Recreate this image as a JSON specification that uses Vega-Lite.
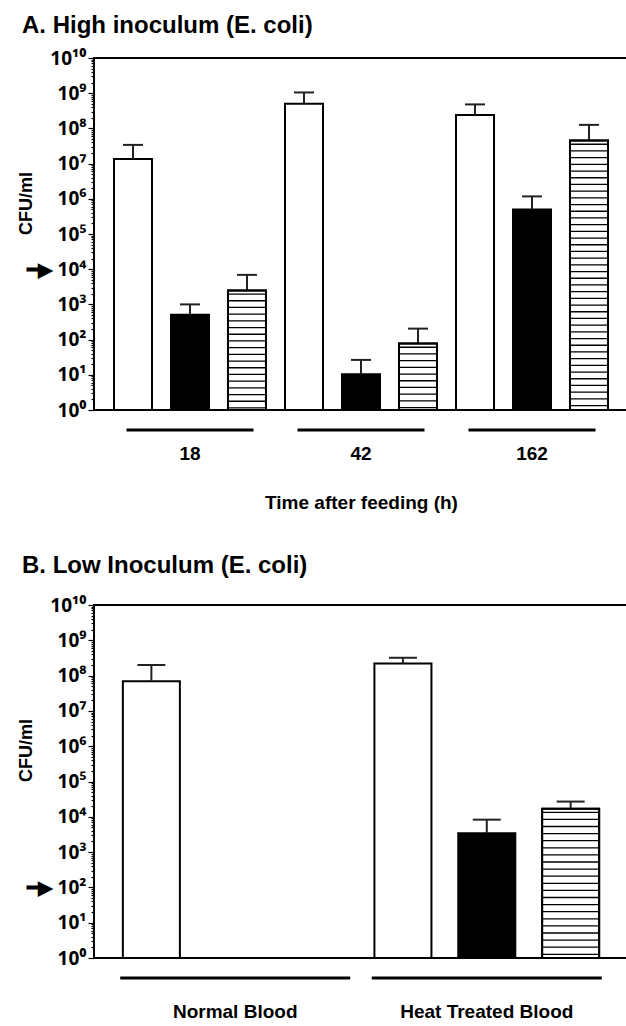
{
  "$schema": "https://vega.github.io/schema/vega-lite/v6.json",
  "padding": {"left": 16, "top": 13, "right": 0, "bottom": 0},
  "spacing": 40,
  "resolve": {"scale": {"x": "independent", "xOffset": "independent", "y": "independent"}},
  "config": {
    "font": "Liberation Sans",
    "view": {"stroke": "black", "strokeWidth": 2},
    "axis": {"labelFont": "Liberation Sans", "titleFont": "Liberation Sans", "labelColor": "black", "titleColor": "black", "grid": false},
    "title": {"font": "Liberation Sans", "fontSize": 24, "fontWeight": "bold", "color": "black", "anchor": "start", "frame": "group"}
  },
  "datasets": {
    "a": [
      {"time": "18", "treatment": "open", "value": 13500000, "upper": 34000000},
      {"time": "18", "treatment": "filled", "value": 510, "upper": 1000},
      {"time": "18", "treatment": "striped", "value": 2500, "upper": 6900},
      {"time": "42", "treatment": "open", "value": 500000000, "upper": 1050000000},
      {"time": "42", "treatment": "filled", "value": 10.4, "upper": 26.5},
      {"time": "42", "treatment": "striped", "value": 77, "upper": 205},
      {"time": "162", "treatment": "open", "value": 240000000, "upper": 480000000},
      {"time": "162", "treatment": "filled", "value": 500000, "upper": 1170000},
      {"time": "162", "treatment": "striped", "value": 45000000, "upper": 126000000}
    ],
    "groupsA": [{"time": "18"}, {"time": "42"}, {"time": "162"}],
    "b": [
      {"blood": "Normal Blood", "treatment": "open", "value": 69000000, "upper": 200000000},
      {"blood": "Heat Treated Blood", "treatment": "open", "value": 220000000, "upper": 320000000},
      {"blood": "Heat Treated Blood", "treatment": "filled", "value": 3400, "upper": 8300},
      {"blood": "Heat Treated Blood", "treatment": "striped", "value": 17000, "upper": 27000}
    ],
    "groupsB": [{"blood": "Normal Blood"}, {"blood": "Heat Treated Blood"}]
  },
  "vconcat": [
    {
      "title": {"text": "A. High inoculum (E. coli)", "dx": -72, "offset": 11},
      "width": 534,
      "height": 352,
      "layer": [
        {
          "data": {"name": "a"},
          "mark": {"type": "bar", "stroke": "black", "strokeWidth": 2},
          "encoding": {
            "x": {"field": "time", "type": "nominal", "scale": {"domain": ["18", "42", "162"], "paddingInner": 0, "paddingOuter": 0.0614}, "axis": {"title": "Time after feeding (h)", "labelAngle": 0, "ticks": false, "domain": false, "labelPadding": 34, "labelFontSize": 19, "labelFontWeight": "bold", "titleFontSize": 19, "titleFontWeight": "bold", "titlePadding": 30}},
            "xOffset": {"field": "treatment", "type": "nominal", "scale": {"domain": ["open", "filled", "striped"], "paddingInner": 0.333, "paddingOuter": 0.1667}},
            "y": {"field": "value", "type": "quantitative", "scale": {"type": "log", "domain": [1, 10000000000], "nice": false}, "axis": {
              "title": "CFU/ml", "titleFontSize": 18, "titleFontWeight": "bold", "titleX": -59, "titleY": 145,
              "tickCount": 100, "labelOverlap": false, "labelFont": "Noto Sans", "labelFontSize": 19, "labelFontWeight": "bold", "labelPadding": 2, "domain": false, "tickColor": "black", "tickWidth": 1.2,
              "tickSize": {"condition": {"test": "abs(log(datum.value)/LN10 - round(log(datum.value)/LN10)) < 0.001", "value": 6}, "value": 3},
              "labelExpr": "abs(log(datum.value)/LN10 - round(log(datum.value)/LN10)) < 0.001 ? ((round(log(datum.value)/LN10) == 4 ? '━▶ ' : '') + '10' + ['⁰','¹','²','³','⁴','⁵','⁶','⁷','⁸','⁹','¹⁰'][round(log(datum.value)/LN10)]) : ''"
            }},
            "y2": {"datum": 1},
            "fill": {"condition": {"test": "datum.treatment === 'filled'", "value": "black"}, "value": "white"}
          }
        },
        {
          "data": {"name": "a"},
          "mark": {"type": "rule", "strokeWidth": 2, "color": "#222"},
          "encoding": {
            "x": {"field": "time", "type": "nominal"},
            "xOffset": {"field": "treatment", "type": "nominal"},
            "y": {"field": "value", "type": "quantitative"},
            "y2": {"field": "upper"}
          }
        },
        {
          "data": {"name": "a"},
          "mark": {"type": "tick", "size": 20, "thickness": 2, "color": "#222", "opacity": 1, "orient": "horizontal"},
          "encoding": {
            "x": {"field": "time", "type": "nominal"},
            "xOffset": {"field": "treatment", "type": "nominal"},
            "y": {"field": "upper", "type": "quantitative"}
          }
        },
        {
          "data": {"name": "a"},
          "transform": [{"filter": "datum.treatment === 'striped'"}],
          "mark": {"type": "rule", "strokeWidth": 38, "strokeDash": [1.3, 5.4], "strokeDashOffset": -3, "color": "black"},
          "encoding": {
            "x": {"field": "time", "type": "nominal"},
            "xOffset": {"field": "treatment", "type": "nominal"},
            "y": {"field": "value", "type": "quantitative"},
            "y2": {"datum": 1}
          }
        },
        {
          "data": {"name": "a"},
          "transform": [{"filter": "datum.treatment === 'striped'"}],
          "mark": {"type": "bar", "fill": null, "fillOpacity": 0, "stroke": "black", "strokeWidth": 2},
          "encoding": {
            "x": {"field": "time", "type": "nominal"},
            "xOffset": {"field": "treatment", "type": "nominal"},
            "y": {"field": "value", "type": "quantitative"},
            "y2": {"datum": 1}
          }
        },
        {
          "data": {"name": "groupsA"},
          "mark": {"type": "tick", "size": 127, "thickness": 3, "color": "black", "opacity": 1, "orient": "horizontal"},
          "encoding": {
            "x": {"field": "time", "type": "nominal"},
            "y": {"datum": 0.27, "type": "quantitative"}
          }
        }
      ]
    },
    {
      "title": {"text": "B. Low Inoculum  (E. coli)", "dx": -72, "offset": 18},
      "width": 534,
      "height": 353,
      "layer": [
        {
          "data": {"name": "b"},
          "mark": {"type": "bar", "stroke": "black", "strokeWidth": 2},
          "encoding": {
            "x": {"field": "blood", "type": "nominal", "scale": {"domain": ["Normal Blood", "Heat Treated Blood"], "paddingInner": 0, "paddingOuter": 0.0614}, "axis": {"title": null, "labelAngle": 0, "ticks": false, "domain": false, "labelPadding": 44, "labelFontSize": 19, "labelFontWeight": "bold"}},
            "xOffset": {"field": "treatment", "type": "nominal", "scale": {"domain": ["open", "filled", "striped"], "paddingInner": 0.32, "paddingOuter": 0.16}},
            "y": {"field": "value", "type": "quantitative", "scale": {"type": "log", "domain": [1, 10000000000], "nice": false}, "axis": {
              "title": "CFU/ml", "titleFontSize": 18, "titleFontWeight": "bold", "titleX": -59, "titleY": 145,
              "tickCount": 100, "labelOverlap": false, "labelFont": "Noto Sans", "labelFontSize": 19, "labelFontWeight": "bold", "labelPadding": 2, "domain": false, "tickColor": "black", "tickWidth": 1.2,
              "tickSize": {"condition": {"test": "abs(log(datum.value)/LN10 - round(log(datum.value)/LN10)) < 0.001", "value": 6}, "value": 3},
              "labelExpr": "abs(log(datum.value)/LN10 - round(log(datum.value)/LN10)) < 0.001 ? ((round(log(datum.value)/LN10) == 2 ? '━▶ ' : '') + '10' + ['⁰','¹','²','³','⁴','⁵','⁶','⁷','⁸','⁹','¹⁰'][round(log(datum.value)/LN10)]) : ''"
            }},
            "y2": {"datum": 1},
            "fill": {"condition": {"test": "datum.treatment === 'filled'", "value": "black"}, "value": "white"}
          }
        },
        {
          "data": {"name": "b"},
          "mark": {"type": "rule", "strokeWidth": 2, "color": "#222"},
          "encoding": {
            "x": {"field": "blood", "type": "nominal"},
            "xOffset": {"field": "treatment", "type": "nominal"},
            "y": {"field": "value", "type": "quantitative"},
            "y2": {"field": "upper"}
          }
        },
        {
          "data": {"name": "b"},
          "mark": {"type": "tick", "size": 28, "thickness": 2, "color": "#222", "opacity": 1, "orient": "horizontal"},
          "encoding": {
            "x": {"field": "blood", "type": "nominal"},
            "xOffset": {"field": "treatment", "type": "nominal"},
            "y": {"field": "upper", "type": "quantitative"}
          }
        },
        {
          "data": {"name": "b"},
          "transform": [{"filter": "datum.treatment === 'striped'"}],
          "mark": {"type": "rule", "strokeWidth": 56, "strokeDash": [1.3, 5.8], "strokeDashOffset": -3, "color": "black"},
          "encoding": {
            "x": {"field": "blood", "type": "nominal"},
            "xOffset": {"field": "treatment", "type": "nominal"},
            "y": {"field": "value", "type": "quantitative"},
            "y2": {"datum": 1}
          }
        },
        {
          "data": {"name": "b"},
          "transform": [{"filter": "datum.treatment === 'striped'"}],
          "mark": {"type": "bar", "fill": null, "fillOpacity": 0, "stroke": "black", "strokeWidth": 2},
          "encoding": {
            "x": {"field": "blood", "type": "nominal"},
            "xOffset": {"field": "treatment", "type": "nominal"},
            "y": {"field": "value", "type": "quantitative"},
            "y2": {"datum": 1}
          }
        },
        {
          "data": {"name": "groupsB"},
          "mark": {"type": "tick", "size": 230, "thickness": 3, "color": "black", "opacity": 1, "orient": "horizontal"},
          "encoding": {
            "x": {"field": "blood", "type": "nominal"},
            "y": {"datum": 0.27, "type": "quantitative"}
          }
        }
      ]
    }
  ]
}
